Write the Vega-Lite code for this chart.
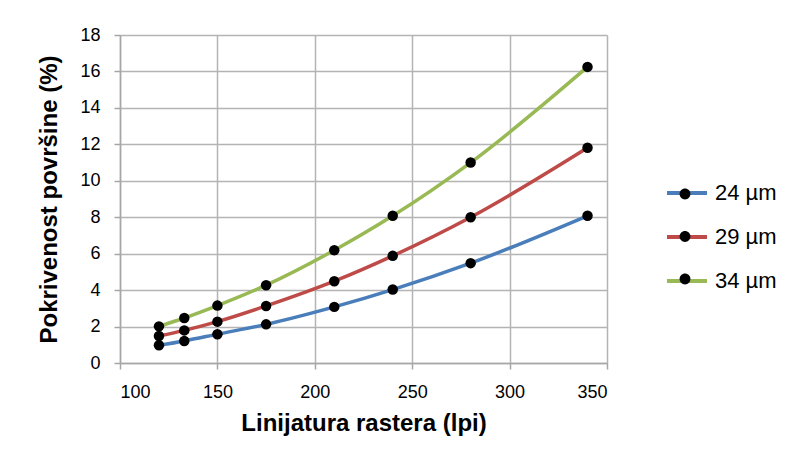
{
  "$schema": "https://vega.github.io/schema/vega-lite/v6.json",
  "width": 487,
  "height": 328,
  "autosize": {"type": "none"},
  "padding": {"left": 120, "top": 35, "right": 199, "bottom": 100},
  "background": "white",
  "config": {
    "font": "Liberation Sans",
    "view": {"stroke": null},
    "axis": {
      "gridColor": "#b4b4b4",
      "gridWidth": 1.5,
      "domainColor": "#a6a6a6",
      "domainWidth": 1.5,
      "tickColor": "#a6a6a6",
      "tickWidth": 1.5,
      "tickSize": 6,
      "labelFont": "Liberation Sans",
      "labelFontSize": 18,
      "labelColor": "#000000",
      "titleFont": "Liberation Sans",
      "titleFontSize": 24,
      "titleFontWeight": "bold",
      "titleColor": "#000000"
    }
  },
  "data": {
    "values": [
      {"lpi": 120, "pct": 0.97, "d": "24 µm"},
      {"lpi": 133, "pct": 1.21, "d": "24 µm"},
      {"lpi": 150, "pct": 1.58, "d": "24 µm"},
      {"lpi": 175, "pct": 2.12, "d": "24 µm"},
      {"lpi": 210, "pct": 3.08, "d": "24 µm"},
      {"lpi": 240, "pct": 4.03, "d": "24 µm"},
      {"lpi": 280, "pct": 5.48, "d": "24 µm"},
      {"lpi": 340, "pct": 8.08, "d": "24 µm"},
      {"lpi": 120, "pct": 1.48, "d": "29 µm"},
      {"lpi": 133, "pct": 1.79, "d": "29 µm"},
      {"lpi": 150, "pct": 2.27, "d": "29 µm"},
      {"lpi": 175, "pct": 3.13, "d": "29 µm"},
      {"lpi": 210, "pct": 4.49, "d": "29 µm"},
      {"lpi": 240, "pct": 5.88, "d": "29 µm"},
      {"lpi": 280, "pct": 8.0, "d": "29 µm"},
      {"lpi": 340, "pct": 11.81, "d": "29 µm"},
      {"lpi": 120, "pct": 2.01, "d": "34 µm"},
      {"lpi": 133, "pct": 2.47, "d": "34 µm"},
      {"lpi": 150, "pct": 3.15, "d": "34 µm"},
      {"lpi": 175, "pct": 4.27, "d": "34 µm"},
      {"lpi": 210, "pct": 6.19, "d": "34 µm"},
      {"lpi": 240, "pct": 8.08, "d": "34 µm"},
      {"lpi": 280, "pct": 11.0, "d": "34 µm"},
      {"lpi": 340, "pct": 16.25, "d": "34 µm"}
    ]
  },
  "encoding": {
    "x": {
      "field": "lpi",
      "type": "quantitative",
      "scale": {"domain": [100, 350], "nice": false},
      "axis": {"values": [100, 150, 200, 250, 300, 350], "title": "Linijatura rastera (lpi)", "titlePadding": 10, "labelPadding": 14}
    },
    "y": {
      "field": "pct",
      "type": "quantitative",
      "scale": {"domain": [0, 18], "nice": false},
      "axis": {"values": [0, 2, 4, 6, 8, 10, 12, 14, 16, 18], "title": "Pokrivenost površine (%)", "titlePadding": 18, "labelPadding": 14}
    }
  },
  "layer": [
    {
      "mark": {"type": "line", "interpolate": "monotone", "strokeWidth": 3.5},
      "encoding": {
        "color": {
          "field": "d",
          "type": "nominal",
          "scale": {"range": ["#4A7EBB", "#BE4B48", "#98B954"]},
          "legend": {
            "title": null,
            "orient": "none",
            "legendX": 545,
            "legendY": 136,
            "symbolType": "stroke",
            "symbolSize": 1600,
            "symbolStrokeWidth": 4,
            "labelFontSize": 22,
            "labelFont": "Liberation Sans",
            "labelColor": "#000000",
            "labelOffset": 6,
            "rowPadding": 11,
            "zindex": 0
          }
        }
      }
    },
    {
      "mark": {"type": "circle", "size": 110, "opacity": 1},
      "encoding": {
        "fill": {
          "field": "d",
          "type": "nominal",
          "scale": {"domain": ["24 µm", "29 µm", "34 µm"], "range": ["#000000", "#000000", "#000000"]},
          "legend": {
            "title": null,
            "orient": "none",
            "legendX": 545,
            "legendY": 139,
            "symbolType": "M0.27,0A0.27,0.27,0,1,1,-0.27,0A0.27,0.27,0,1,1,0.27,0Z",
            "symbolSize": 1600,
            "symbolStrokeWidth": 0,
            "labelFontSize": 22,
            "labelFont": "Liberation Sans",
            "labelExpr": "''",
            "labelOffset": 6,
            "rowPadding": 11.5,
            "zindex": 1
          }
        }
      }
    }
  ]
}
